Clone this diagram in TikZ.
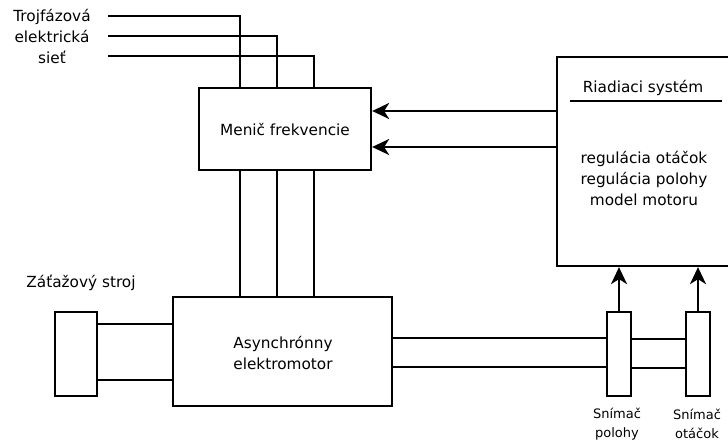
\documentclass[tikz,border=0pt]{standalone}
\usepackage{fontspec}
\setmainfont{DejaVu Sans}
\usetikzlibrary{arrows.meta,calc}
\begin{document}
\begin{tikzpicture}[x=1pt,y=-1pt,
  box/.style={draw,line width=2.3pt,inner sep=0pt,anchor=center},
  wire/.style={line width=2.3pt},
  arr/.style={line width=2.3pt,-{Stealth[length=17pt,width=16pt,inset=5pt]}},
  lbl/.style={font=\fontsize{15.3}{21}\selectfont,align=center,inner sep=0pt},
  small/.style={font=\fontsize{13}{19.5}\selectfont,align=center,inner sep=0pt}]
\useasboundingbox (0,0) rectangle (728,441);
\clip (0,0) rectangle (728,441);
% boxes
\node[box,minimum width=172pt,minimum height=82pt] (mf) at (285,129) {};
\node[box,minimum width=219pt,minimum height=109pt] (motor) at (282.5,351.5) {};
\node[box,minimum width=42pt,minimum height=84pt] (load) at (76,354) {};
\node[box,minimum width=24pt,minimum height=84pt] (s1) at (619,354) {};
\node[box,minimum width=24pt,minimum height=84pt] (s2) at (698,354) {};
\node[box,minimum width=203pt,minimum height=209pt] (ctrl) at (658.5,161.5) {};
% texts
\node[lbl] (tmf) at (mf.center) {Menič frekvencie};
\node[lbl] (tmotor) at (283,353) {Asynchrónny\\elektromotor};
\node[lbl] (tload) at (81,283) {Záťažový stroj};
\node[lbl] (tnet) at (52,36) {Trojfázová\\elektrická\\sieť};
\node[lbl] (tctrl) at (643,88) {Riadiaci systém};
\node[lbl] (tfun) at (644,178) {regulácia otáčok\\regulácia polohy\\model motoru};
\node[small] (ts1) at (617,424) {Snímač\\polohy};
\node[small] (ts2) at (697,424) {Snímač\\otáčok};
% underline
\coordinate (u1) at (570,101);
\coordinate (u2) at (722,101);
\draw[wire] (u1) -- (u2);
% supply lines
\coordinate (p1) at (108,16);
\coordinate (p2) at (108,36);
\coordinate (p3) at (108,56);
\draw[wire] (p1) -| ([xshift=-45pt]mf.north);
\draw[wire] (p2) -| ([xshift=-8pt]mf.north);
\draw[wire] (p3) -| ([xshift=29pt]mf.north);
% lines to motor
\foreach \dx in {-45,-8,29}
  \draw[wire] ([xshift=\dx pt]mf.south) -- ([xshift=\dx pt]mf.south |- motor.north);
% shafts
\draw[wire] (load.east |- 0,324) -- (motor.west |- 0,324);
\draw[wire] (load.east |- 0,380) -- (motor.west |- 0,380);
\draw[wire] (motor.east |- 0,338) -- (s1.west |- 0,338);
\draw[wire] (motor.east |- 0,367) -- (s1.west |- 0,367);
\draw[wire] (s1.east |- 0,339) -- (s2.west |- 0,339);
\draw[wire] (s1.east |- 0,368) -- (s2.west |- 0,368);
% arrows
\draw[arr] (s1.north) -- (s1.north |- ctrl.south);
\draw[arr] (s2.north) -- (s2.north |- ctrl.south);
\draw[arr] (ctrl.west |- 0,111) -- (mf.east |- 0,111);
\draw[arr] (ctrl.west |- 0,147) -- (mf.east |- 0,147);
\end{tikzpicture}
\end{document}
